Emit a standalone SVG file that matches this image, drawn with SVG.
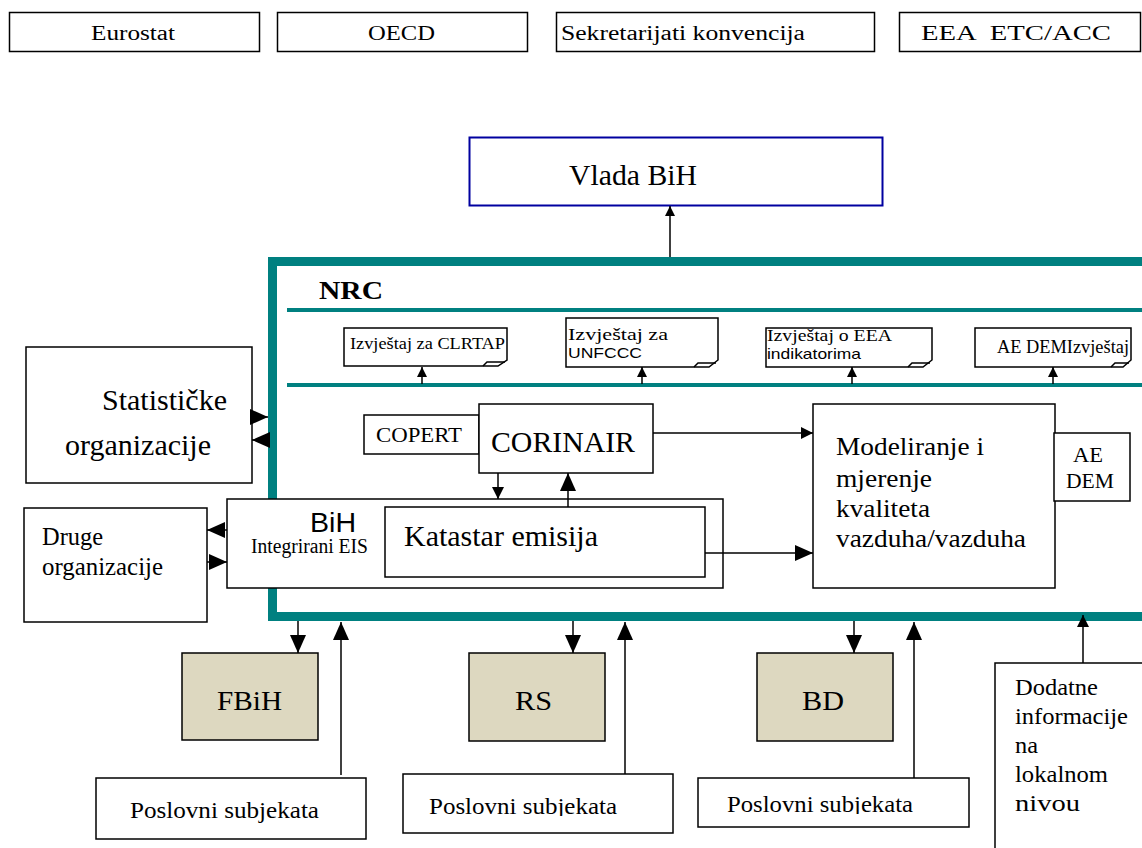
<svg xmlns="http://www.w3.org/2000/svg" width="1142" height="848" viewBox="0 0 1142 848">
<style>
.box{fill:#fff;stroke:#000;stroke-width:1.5}
.tan{fill:#ddd8c0;stroke:#000;stroke-width:1.5}
.teal{stroke:#008080;fill:none}
.ln{stroke:#000;stroke-width:1.5;fill:none}
.sans{font-family:"Liberation Sans",Arial,sans-serif}
</style>
<defs>
<marker id="a" markerUnits="userSpaceOnUse" markerWidth="12" markerHeight="12" refX="12" refY="6" orient="auto"><path d="M0,0 L12,6 L0,12 z" fill="#000"/></marker>
<marker id="aL" markerUnits="userSpaceOnUse" markerWidth="18" markerHeight="16" refX="18" refY="8" orient="auto"><path d="M0,0 L18,8 L0,16 z" fill="#000"/></marker>
<marker id="aS" markerUnits="userSpaceOnUse" markerWidth="10" markerHeight="10" refX="10" refY="5" orient="auto"><path d="M0,0 L10,5 L0,10 z" fill="#000"/></marker>
<clipPath id="c2"><rect x="403" y="774" width="270" height="42"/></clipPath>
<clipPath id="c3"><rect x="698" y="778" width="271" height="36"/></clipPath>
</defs>

<g font-family="Liberation Serif, Times New Roman, serif">
<g id="eurostat"><rect class="box" x="9.5" y="12.5" width="250" height="39"/><text x="91" y="40" font-size="20" textLength="84" lengthAdjust="spacingAndGlyphs">Eurostat</text></g>
<g id="oecd"><rect class="box" x="277.5" y="12.5" width="250" height="39"/><text x="368" y="40" font-size="20" textLength="67" lengthAdjust="spacingAndGlyphs">OECD</text></g>
<g id="sekretarijati"><rect class="box" x="556.5" y="12.5" width="318" height="39"/><text x="561" y="40" font-size="20" textLength="244" lengthAdjust="spacingAndGlyphs">Sekretarijati konvencija</text></g>
<g id="eea-etc"><rect class="box" x="899.5" y="12.5" width="241" height="39"/><text x="921" y="40" font-size="20" textLength="190" lengthAdjust="spacingAndGlyphs" xml:space="preserve">EEA  ETC/ACC</text></g>

<g id="vlada"><rect x="469.5" y="137.5" width="413" height="68" fill="#fff" stroke="#0000a0" stroke-width="2"/><text x="569" y="185" font-size="30" textLength="128" lengthAdjust="spacingAndGlyphs">Vlada BiH</text></g>

<g id="nrc">
<rect class="teal" x="272.5" y="261.5" width="900" height="355" stroke-width="9"/>
<line class="teal" x1="287" y1="310" x2="1142" y2="310" stroke-width="4"/>
<line class="teal" x1="287" y1="385" x2="1142" y2="385" stroke-width="4"/>
<text x="319" y="299" font-size="25" font-weight="bold" textLength="64" lengthAdjust="spacingAndGlyphs">NRC</text>
</g>

<g id="rep-clrtap"><path class="box" d="M344,328 H507 V360 L498,366 H344 Z"/><path class="ln" d="M483,366 L487,362 H505" stroke-width="1"/><text x="350" y="349" font-size="17" textLength="155" lengthAdjust="spacingAndGlyphs">Izvještaj za CLRTAP</text></g>
<g id="rep-unfccc"><path class="box" d="M566,318 H718 V360 L709,367 H566 Z"/><path class="ln" d="M694,367 L698,363 H716" stroke-width="1"/><text x="568" y="340" font-size="17" textLength="100" lengthAdjust="spacingAndGlyphs">Izvještaj za</text><text class="sans" x="568" y="358" font-size="15" textLength="74" lengthAdjust="spacingAndGlyphs">UNFCCC</text></g>
<g id="rep-eea"><path class="box" d="M766,328 H932 V360 L923,367 H766 Z"/><path class="ln" d="M908,367 L912,363 H930" stroke-width="1"/><text x="767" y="341" font-size="17" textLength="125" lengthAdjust="spacingAndGlyphs">Izvještaj o EEA</text><text class="sans" x="767" y="359" font-size="15" textLength="94" lengthAdjust="spacingAndGlyphs">indikatorima</text></g>
<g id="rep-aedem"><path class="box" d="M975,328 H1131 V360 L1123,367 H975 Z"/><path class="ln" d="M1111,367 L1115,363 H1129" stroke-width="1"/><text x="997" y="353" font-size="18" textLength="132" lengthAdjust="spacingAndGlyphs">AE DEMIzvještaj</text></g>

<g id="statisticke"><rect class="box" x="26" y="347" width="226" height="136"/><text x="102" y="410" font-size="30" textLength="125" lengthAdjust="spacingAndGlyphs">Statističke</text><text x="65" y="455" font-size="30" textLength="146" lengthAdjust="spacingAndGlyphs">organizacije</text></g>
<g id="druge"><rect class="box" x="24" y="508" width="183" height="114"/><text x="42" y="545" font-size="25" textLength="61" lengthAdjust="spacingAndGlyphs">Druge</text><text x="42" y="575" font-size="25" textLength="121" lengthAdjust="spacingAndGlyphs">organizacije</text></g>

<g id="copert"><rect class="box" x="364" y="415" width="115" height="39"/><text x="376" y="442" font-size="22" textLength="86" lengthAdjust="spacingAndGlyphs">COPERT</text></g>
<g id="corinair"><rect class="box" x="479" y="404" width="174" height="69"/><text x="491" y="452" font-size="30" textLength="144" lengthAdjust="spacingAndGlyphs">CORINAIR</text></g>

<g id="bih-eis"><rect class="box" x="227" y="499" width="496" height="89" fill="none"/><text class="sans" x="310" y="532" font-size="28" textLength="46" lengthAdjust="spacingAndGlyphs">BiH</text><text x="251" y="553" font-size="20" textLength="117" lengthAdjust="spacingAndGlyphs">Integrirani EIS</text></g>
<g id="katastar"><rect class="box" x="385" y="507" width="320" height="70"/><text x="404" y="546" font-size="30" textLength="194" lengthAdjust="spacingAndGlyphs">Katastar emisija</text></g>

<g id="modeliranje"><rect class="box" x="813" y="404" width="242" height="184"/>
<text x="836" y="455" font-size="26" textLength="148" lengthAdjust="spacingAndGlyphs">Modeliranje i</text>
<text x="836" y="487" font-size="26" textLength="96" lengthAdjust="spacingAndGlyphs">mjerenje</text>
<text x="836" y="517" font-size="26" textLength="94" lengthAdjust="spacingAndGlyphs">kvaliteta</text>
<text x="836" y="547" font-size="26" textLength="190" lengthAdjust="spacingAndGlyphs">vazduha/vazduha</text></g>
<g id="aedem"><rect class="box" x="1054" y="433" width="76" height="68"/><text x="1073" y="462" font-size="22" textLength="30" lengthAdjust="spacingAndGlyphs">AE</text><text x="1066" y="488" font-size="22" textLength="48" lengthAdjust="spacingAndGlyphs">DEM</text></g>

<g id="fbih"><rect class="tan" x="182" y="653" width="136" height="87"/><text x="217" y="710" font-size="28" textLength="65" lengthAdjust="spacingAndGlyphs">FBiH</text></g>
<g id="rs"><rect class="tan" x="469" y="653" width="136" height="88"/><text x="515" y="710" font-size="28" textLength="37" lengthAdjust="spacingAndGlyphs">RS</text></g>
<g id="bd"><rect class="tan" x="757" y="653" width="136" height="88"/><text x="802" y="710" font-size="28" textLength="42" lengthAdjust="spacingAndGlyphs">BD</text></g>

<g id="poslovni1"><rect class="box" x="96" y="778" width="270" height="61"/><text x="130" y="818" font-size="24" textLength="189" lengthAdjust="spacingAndGlyphs">Poslovni subjekata</text></g>
<g id="poslovni2"><rect class="box" x="403" y="774" width="270" height="59"/><text x="429" y="814" font-size="24" textLength="188" lengthAdjust="spacingAndGlyphs" clip-path="url(#c2)">Poslovni subjekata</text></g>
<g id="poslovni3"><rect class="box" x="698" y="778" width="271" height="49"/><text x="727" y="812" font-size="24" textLength="186" lengthAdjust="spacingAndGlyphs" clip-path="url(#c3)">Poslovni subjekata</text></g>

<g id="dodatne"><rect class="box" x="995" y="663" width="160" height="200"/>
<text x="1015" y="695" font-size="24" textLength="83" lengthAdjust="spacingAndGlyphs">Dodatne</text>
<text x="1015" y="724" font-size="24" textLength="113" lengthAdjust="spacingAndGlyphs">informacije</text>
<text x="1015" y="753" font-size="24" textLength="23" lengthAdjust="spacingAndGlyphs">na</text>
<text x="1015" y="782" font-size="24" textLength="93" lengthAdjust="spacingAndGlyphs">lokalnom</text>
<text x="1015" y="811" font-size="24" textLength="65" lengthAdjust="spacingAndGlyphs">nivou</text></g>
</g>

<g id="connectors">
<line class="ln" x1="670" y1="257" x2="670" y2="206" marker-end="url(#aS)"/>
<line class="ln" x1="422" y1="384" x2="422" y2="367" stroke-width="3" marker-end="url(#aS)"/>
<line class="ln" x1="642" y1="384" x2="642" y2="367" stroke-width="3" marker-end="url(#aS)"/>
<line class="ln" x1="852" y1="384" x2="852" y2="367" stroke-width="3" marker-end="url(#aS)"/>
<line class="ln" x1="1053" y1="384" x2="1053" y2="367" stroke-width="3" marker-end="url(#aS)"/>
<line class="ln" x1="252" y1="417" x2="268" y2="417" marker-end="url(#aL)"/>
<line class="ln" x1="268" y1="440" x2="252" y2="440" marker-end="url(#aL)"/>
<line class="ln" x1="227" y1="530" x2="207" y2="530" marker-end="url(#aL)"/>
<line class="ln" x1="207" y1="562" x2="227" y2="562" stroke-width="4" marker-end="url(#aL)"/>
<line class="ln" x1="653" y1="433" x2="813" y2="433" marker-end="url(#a)"/>
<line class="ln" x1="705" y1="553" x2="813" y2="553" marker-end="url(#aL)"/>
<line class="ln" x1="498" y1="473" x2="498" y2="499" marker-end="url(#a)"/>
<line class="ln" x1="568" y1="507" x2="568" y2="473" stroke-width="5" marker-end="url(#aL)"/>
<line class="ln" x1="298" y1="621" x2="298" y2="653" marker-end="url(#aL)"/>
<line class="ln" x1="341" y1="775" x2="341" y2="622" marker-end="url(#aL)"/>
<line class="ln" x1="573" y1="621" x2="573" y2="653" marker-end="url(#aL)"/>
<line class="ln" x1="625" y1="774" x2="625" y2="622" marker-end="url(#aL)"/>
<line class="ln" x1="854" y1="621" x2="854" y2="653" marker-end="url(#aL)"/>
<line class="ln" x1="914" y1="778" x2="914" y2="622" marker-end="url(#aL)"/>
<line class="ln" x1="1083" y1="663" x2="1083" y2="615" marker-end="url(#a)"/>
</g>
</svg>
